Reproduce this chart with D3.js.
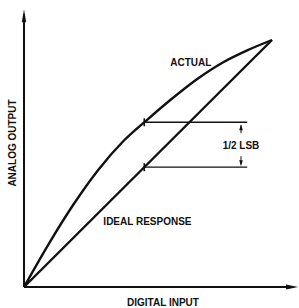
<!DOCTYPE html>
<html>
<head>
<meta charset="utf-8">
<script src="https://cdn.jsdelivr.net/npm/d3@7"></script>
<style>
  body { margin: 0; background: #fff; }
  text { font-family: "Liberation Sans", Arial, sans-serif; font-weight: bold; fill: #111; }
</style>
</head>
<body>
<script>
'use strict';

// transfer curve of the converter, full scale = 10
var ideal = [
  {x: 0, y: 0},
  {x: 10, y: 10}
];
var actual = [
  {x: 0, y: 0},
  {x: 1, y: 1.75},
  {x: 2, y: 3.35},
  {x: 3, y: 4.75},
  {x: 4, y: 5.9},
  {x: 5, y: 6.8},
  {x: 6, y: 7.65},
  {x: 7, y: 8.43},
  {x: 8, y: 9.08},
  {x: 9, y: 9.58},
  {x: 10, y: 10}
];
// the two marked codes and where the 1/2 LSB dimension lines end
var marks = [
  {x: 4.85, y: 6.67},
  {x: 4.85, y: 4.85}
];
var dimEnd = 9.0;
var lsbAt = 8.75;
var labels = {actual: "ACTUAL", ideal: "IDEAL RESPONSE", lsb: "1/2 LSB",
              xTitle: "DIGITAL INPUT", yTitle: "ANALOG OUTPUT"};

var width = 299, height = 308;
var svg = d3.select("body")
  .append("svg")
    .attr("width", width)
    .attr("height", height);

var xScale = d3.scaleLinear()
  .domain([0, 10])
  .range([24, 272]);
var yScale = d3.scaleLinear()
  .domain([0, 10])
  .range([287, 40]);

var ink = "#111";

// axes with arrow heads
var x0 = xScale(0), y0 = yScale(0);
svg.append("line")
  .attr("x1", x0).attr("y1", y0)
  .attr("x2", x0).attr("y2", yScale(11.05))
  .attr("stroke", ink).attr("stroke-width", 2);
svg.append("path")
  .attr("d", "M" + x0 + "," + (yScale(11.2) - 1) + " l-2.2,13 l4.4,0 z")
  .attr("fill", ink);
svg.append("line")
  .attr("x1", x0).attr("y1", y0)
  .attr("x2", xScale(10.6)).attr("y2", y0)
  .attr("stroke", ink).attr("stroke-width", 2.2);
svg.append("path")
  .attr("d", "M" + (xScale(11.05)) + "," + y0 + " l-12,-2.4 l0,4.8 z")
  .attr("fill", ink);

var line = d3.line()
  .x(function(d) { return xScale(d.x); })
  .y(function(d) { return yScale(d.y); })
  .curve(d3.curveMonotoneX);

svg.append("path")
  .attr("d", line(actual))
  .attr("fill", "none")
  .attr("stroke", ink)
  .attr("stroke-width", 2.4)
  .attr("stroke-linejoin", "round");

svg.append("path")
  .attr("d", line(ideal))
  .attr("fill", "none")
  .attr("stroke", ink)
  .attr("stroke-width", 2.4);

// dimension lines and tick marks
marks.forEach(function(m) {
  svg.append("line")
    .attr("x1", xScale(m.x)).attr("y1", yScale(m.y))
    .attr("x2", xScale(dimEnd)).attr("y2", yScale(m.y))
    .attr("stroke", ink).attr("stroke-width", 1.3);
  svg.append("line")
    .attr("x1", xScale(m.x)).attr("y1", yScale(m.y) - 4)
    .attr("x2", xScale(m.x)).attr("y2", yScale(m.y) + 4)
    .attr("stroke", ink).attr("stroke-width", 1.6);
});

// 1/2 LSB arrows pointing at the dimension lines
var ax = xScale(lsbAt);
var yTop = yScale(marks[0].y), yBot = yScale(marks[1].y);
svg.append("line")
  .attr("x1", ax).attr("y1", yTop + 11).attr("x2", ax).attr("y2", yTop + 3)
  .attr("stroke", ink).attr("stroke-width", 1);
svg.append("path")
  .attr("d", "M" + ax + "," + (yTop + 2) + " l-1.8,6 l3.6,0 z")
  .attr("fill", ink);
svg.append("line")
  .attr("x1", ax).attr("y1", yBot - 11).attr("x2", ax).attr("y2", yBot - 3)
  .attr("stroke", ink).attr("stroke-width", 1);
svg.append("path")
  .attr("d", "M" + ax + "," + (yBot - 1) + " l-1.8,-6 l3.6,0 z")
  .attr("fill", ink);

svg.append("text")
  .attr("x", ax)
  .attr("y", (yTop + yBot) / 2 + 4)
  .attr("text-anchor", "middle")
  .style("font-size", "10px")
  .text(labels.lsb);

svg.append("text")
  .attr("x", xScale(5.9))
  .attr("y", yScale(8.95))
  .style("font-size", "10px")
  .text(labels.actual);

svg.append("text")
  .attr("x", xScale(3.2))
  .attr("y", yScale(2.5))
  .style("font-size", "10px")
  .text(labels.ideal);

svg.append("text")
  .attr("x", 163)
  .attr("y", 306)
  .attr("text-anchor", "middle")
  .style("font-size", "10px")
  .text(labels.xTitle);

svg.append("text")
  .attr("transform", "translate(16,143) rotate(-90)")
  .attr("text-anchor", "middle")
  .style("font-size", "10px")
  .text(labels.yTitle);
</script>
</body>
</html>
